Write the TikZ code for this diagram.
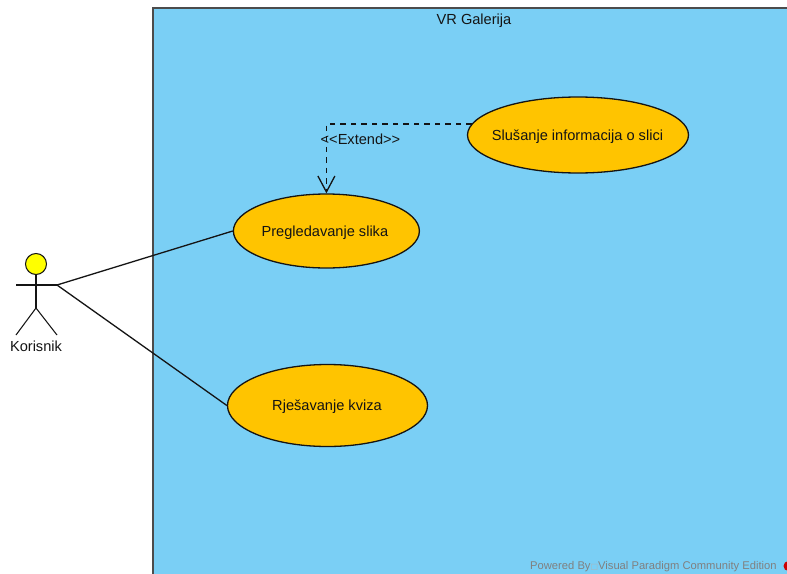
\documentclass[tikz,border=0pt]{standalone}
\usepackage{fontspec}
\setmainfont{Liberation Sans}
\newfontfamily\symfont{DejaVu Sans}
\usetikzlibrary{arrows.meta,shapes.geometric}
\definecolor{sysblue}{RGB}{122,207,245}
\definecolor{caseorange}{RGB}{255,196,0}
\definecolor{actoryellow}{RGB}{255,255,0}
\definecolor{inkline}{RGB}{20,20,20}
\newcommand{\casetext}[2][0pt]{\makebox[0pt]{\hspace*{#1}\smash{\raisebox{-5pt}{#2}}}}
\tikzset{
  usecase/.style={draw=inkline,line width=1.3pt,fill=caseorange,shape=ellipse,inner sep=0pt,font=\fontsize{14.6}{17}\selectfont,text=inkline},
  assoc/.style={draw=inkline,line width=1.3pt},
  stick/.style={draw=inkline,line width=1.05pt},
  lbl/.style={inner sep=0pt,font=\fontsize{14.6}{17}\selectfont,text=inkline},
  footer/.style={inner sep=0pt,anchor=west,font=\fontsize{11.2}{13}\selectfont,text=black!50}
}
\begin{document}
\begin{tikzpicture}[x=1pt,y=-1pt]
\clip (0,0) rectangle (787,573);
\fill[white] (0,0) rectangle (787,573);
\draw[fill=sysblue,draw=black!70,line width=1.4pt] (153,8) rectangle (820,600);
\node[lbl] (title) at (474,21) {VR Galerija};
% ellipses
\node[usecase,minimum width=186pt,minimum height=74pt] (e1) at (326.4,231) {\casetext[-3pt]{Pregledavanje slika}};
\node[usecase,minimum width=200pt,minimum height=82pt] (e2) at (327.5,405.5) {\casetext[-1pt]{Rješavanje kviza}};
\node[usecase,minimum width=221pt,minimum height=76pt] (e3) at (578,135) {\casetext[-1pt]{Slušanje informacija o slici}};
% actor
\node[circle,draw=inkline,line width=1.05pt,fill=actoryellow,minimum size=21pt,inner sep=0pt] (head) at (36,264) {};
\coordinate (armL) at (16,285);
\coordinate (armR) at (57,285);
\coordinate (hip) at (36,308);
\coordinate (legL) at (16,335);
\coordinate (legR) at (57,335);
\draw[stick] (armL) -- (armR);
\draw[stick] (head) -- (hip);
\draw[stick] (legL) -- (hip) -- (legR);
\node[lbl] (actor) at (36,346) {Korisnik};
% connectors
\draw[assoc] (armR) -- (e1.west);
\draw[assoc] (armR) -- (e2.west);
\draw[draw=inkline,line width=1.4pt,dash pattern=on 5.5pt off 5pt,-{Straight Barb[length=16pt,width=17pt,line width=1.3pt]}] (e3.174.5) -| (e1.north);
\node[lbl,anchor=west] (ext) at (320.5,139.5) {<{}<Extend>{}>};
% footer
\node[footer] (pow) at (530,566.5) {Powered By{\symfont\fontsize{8}{12}\selectfont\color{black!30}□}Visual Paradigm Community Edition};
\fill[red!80!black] (788.5,566) circle (5pt);
\end{tikzpicture}
\end{document}
